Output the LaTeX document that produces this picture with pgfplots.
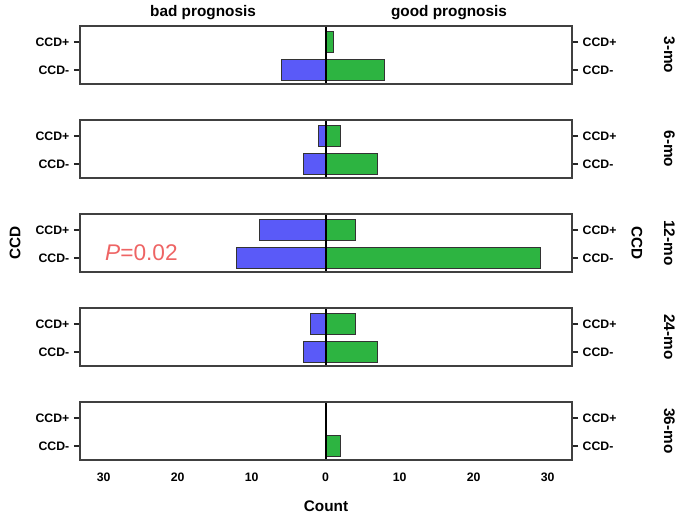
\documentclass[border=0pt]{standalone}
\usepackage{fontspec}
\setmainfont{Liberation Sans}
\setsansfont{Liberation Sans}
\usepackage{pgfplots}
\pgfplotsset{compat=1.18}
\definecolor{badblue}{HTML}{5A5AF8}
\definecolor{goodgreen}{HTML}{2DB441}
\definecolor{pred}{HTML}{EE6464}

\pgfplotsset{
  panel/.style={
    scale only axis, width=369pt, height=43.5pt, anchor=north west,
    xmin=-33.2, xmax=33.3, ymin=-0.5, ymax=1.57,
    clip=false,
    ytick={0,1}, yticklabels={CCD-,CCD+},
    tick align=outside, major tick length=4.5pt,
    xtick=\empty,
    axis line style={black!75, line width=1pt},
    ytick style={black!85, line width=0.8pt},
    tick label style={font=\bfseries\fontsize{9.2}{10}\selectfont},
    /pgf/number format/assume math mode=true,
  },
  bad/.style={xbar, bar width=0.73, bar shift=0pt, fill=badblue, draw=black!80, line width=0.7pt},
  good/.style={xbar, bar width=0.73, bar shift=0pt, fill=goodgreen, draw=black!80, line width=0.7pt},
  zero/.style={black, line width=1.6pt, sharp plot, forget plot},
}
\newcommand{\bigbold}{\bfseries\fontsize{11.5}{13}\selectfont}
% overlay axis: right-hand tick labels and the period label
\newcommand{\rightframe}[2]{%
  \begin{axis}[panel, at={(60pt,#1)}, yticklabel pos=right, ytick style={draw=none}]
    \node[font=\bigbold, xshift=73pt, rotate=-90] at (rel axis cs:1,0.5) {#2};
  \end{axis}}

\begin{document}
\begin{tikzpicture}
\useasboundingbox (0,0) rectangle (513.75pt,-385.5pt);

% 3-mo
\begin{axis}[panel, at={(60pt,-19.5pt)}]
  \addplot[bad] coordinates {(-6,0)};
  \addplot[good] coordinates {(8,0) (1,1)};
  \addplot[zero] coordinates {(0,-0.5) (0,1.57)};
  \node[font=\bigbold, anchor=south, yshift=1pt] at (rel axis cs:0.25,1) {bad prognosis};
  \node[font=\bigbold, anchor=south, yshift=1pt] at (rel axis cs:0.75,1) {good prognosis};
\end{axis}
\rightframe{-19.5pt}{3-mo}

% 6-mo
\begin{axis}[panel, at={(60pt,-90pt)}]
  \addplot[bad] coordinates {(-3,0) (-1,1)};
  \addplot[good] coordinates {(7,0) (2,1)};
  \addplot[zero] coordinates {(0,-0.5) (0,1.57)};
\end{axis}
\rightframe{-90pt}{6-mo}

% 12-mo
\begin{axis}[panel, at={(60pt,-160.5pt)}]
  \addplot[bad] coordinates {(-12,0) (-9,1)};
  \addplot[good] coordinates {(29,0) (4,1)};
  \addplot[zero] coordinates {(0,-0.5) (0,1.57)};
  \node[font=\fontsize{17}{18}\selectfont, text=pred] at (axis cs:-24.9,0.18) {\textit{P}=0.02};
\end{axis}
\rightframe{-160.5pt}{12-mo}

% 24-mo
\begin{axis}[panel, at={(60pt,-231pt)}]
  \addplot[bad] coordinates {(-3,0) (-2,1)};
  \addplot[good] coordinates {(7,0) (4,1)};
  \addplot[zero] coordinates {(0,-0.5) (0,1.57)};
\end{axis}
\rightframe{-231pt}{24-mo}

% 36-mo
\begin{axis}[panel, at={(60pt,-301.5pt)},
    xtick={-30,-20,-10,0,10,20,30},
    xticklabels={30,20,10,0,10,20,30},
    xtick style={draw=none},
    xticklabel style={yshift=-2pt},
    xlabel={Count},
    xlabel style={font=\bigbold, yshift=-7pt}]
  \addplot[good] coordinates {(2,0)};
  \addplot[zero] coordinates {(0,-0.5) (0,1.57)};
\end{axis}
\rightframe{-301.5pt}{36-mo}

% CCD axis titles beside the middle panel
\node[font=\bigbold, rotate=90] at (11.25pt,-182.25pt) {CCD};
\node[font=\bigbold, rotate=-90] at (477.75pt,-182.25pt) {CCD};
\end{tikzpicture}
\end{document}
